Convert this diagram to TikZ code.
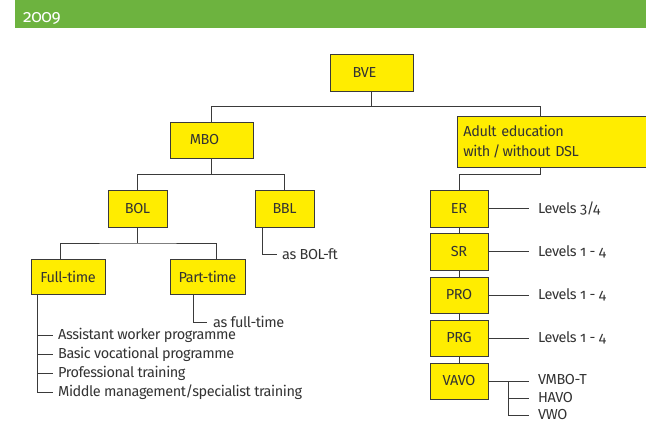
\documentclass[tikz,border=0pt]{standalone}
\usepackage{fontspec}
\setmainfont{Fira Sans}[Numbers=OldStyle,LetterSpace=-3]
\definecolor{barGreen}{HTML}{6DB33F}
\definecolor{boxYellow}{HTML}{FFED00}
\definecolor{edgeGray}{HTML}{3A3A3A}
\definecolor{textGray}{HTML}{333333}
\tikzset{
	box/.style={draw=edgeGray,fill=boxYellow,line width=0.9pt,inner sep=0pt,text=textGray},
	link/.style={draw=edgeGray,line width=0.9pt},
	lbl/.style={anchor=west,inner sep=0pt,text=textGray},
}

\begin{document}
\begin{tikzpicture}[x=1pt,y=1pt,font=\fontsize{14.5}{20}\selectfont]
			\useasboundingbox (0,0) rectangle (646,-425);
			\fill [barGreen] (15,0) rectangle (646,-28);
			\node [anchor=west,inner sep=0pt,text=white,font=\fontsize{17.5}{20}\selectfont] (year) at (23,-18.5) {2009};
			% boxes
			\node [box,minimum width=83,minimum height=37,label={[xshift=-7pt,text=textGray]center:BVE}] (bve) at (371.5,-72.5) {};
			\node [box,minimum width=83,minimum height=36,label={[xshift=-7pt,text=textGray]center:MBO}] (mbo) at (211.5,-140) {};
			\node [box,minimum width=59,minimum height=37] (bol) at (137.5,-208.5) {BOL};
			\node [box,minimum width=59,minimum height=37] (bbl) at (284.5,-208.5) {BBL};
			\node [box,minimum width=74,minimum height=35] (full) at (68,-276.5) {Full-time};
			\node [box,minimum width=75,minimum height=35] (part) at (207.5,-276.5) {Part-time};
			\node [box,anchor=north west,minimum width=193,minimum height=51,text width=181,inner xsep=6pt,align=left] (adult) at (457,-116) {Adult education\\with\,/\,without DSL};
			\node [box,minimum width=58,minimum height=37] (er) at (459,-208.5) {ER};
			\node [box,minimum width=58,minimum height=37] (sr) at (459,-251.5) {SR};
			\node [box,minimum width=58,minimum height=36] (pro) at (459,-295) {PRO};
			\node [box,minimum width=58,minimum height=36] (prg) at (459,-338) {PRG};
			\node [box,minimum width=58,minimum height=36] (vavo) at (459,-381) {VAVO};
			% texts
			\node [lbl] (asbol) at (282,-254) {as BOL-ft};
			\node [lbl] (asfull) at (213,-322) {as full-time};
			\node [lbl] (p1) at (58,-335) {Assistant worker programme};
			\node [lbl] (p2) at (58,-354) {Basic vocational programme};
			\node [lbl] (p3) at (58,-373) {Professional training};
			\node [lbl] (p4) at (58,-392) {Middle management/specialist training};
			\node [lbl] (lv1) at (538,-208.5) {Levels 3/4};
			\node [lbl] (lv2) at (538,-251.5) {Levels 1 - 4};
			\node [lbl] (lv3) at (538,-295) {Levels 1 - 4};
			\node [lbl] (lv4) at (538,-338) {Levels 1 - 4};
			\node [lbl] (vmbo) at (538,-380) {VMBO-T};
			\node [lbl] (havo) at (538,-398) {HAVO};
			\node [lbl] (vwo) at (538,-415) {VWO};
			% connectors
			\coordinate (bus1) at (371.5,-106.7);
			\coordinate (adtop) at (540.7,-116);
			\coordinate (adbot) at (540.7,-167);
			\coordinate (bus3) at (137.5,-243);
			\coordinate (ftop) at (60,-259);
			\coordinate (ptop) at (216,-259);
			\coordinate (fstem) at (37.7,-294);
			\draw [link] (bve.south) -- (bus1);
			\draw [link] (mbo.north) |- (bus1) -| (adtop);
			\draw [link] (mbo.south) -- ++(0,-16) coordinate (bus2);
			\draw [link] (bol.north) |- (bus2) -| (bbl.north);
			\draw [link] (bol.south) -- (bus3);
			\draw [link] (ftop) |- (bus3) -| (ptop);
			\draw [link,shorten >=5pt] ([xshift=-22.5pt]bbl.south) |- (asbol.west);
			\draw [link,shorten >=6pt] ([xshift=-14.5pt]part.south) |- (asfull.west);
			\draw [link,shorten >=5pt] (fstem) |- (p4.west);
			\foreach \n in {p1,p2,p3}
				\draw [link,shorten >=5pt] (fstem |- \n.west) -- (\n.west);
			\draw [link] (adbot) -- ++(0,-7) -| (er.north);
			\draw [link] (er.south) -- (sr.north);
			\draw [link] (sr.south) -- (pro.north);
			\draw [link] (pro.south) -- (prg.north);
			\draw [link] (prg.south) -- (vavo.north);
			\foreach \b in {er,sr,pro,prg}
				\draw [link] (\b.east) -- (\b.east -| 529,0);
			\draw [link] (vavo.east) -- (529,-381);
			\draw [link] (508,-381) |- (529,-415);
			\draw [link] (508,-398) -- (529,-398);
\end{tikzpicture}
\end{document}
